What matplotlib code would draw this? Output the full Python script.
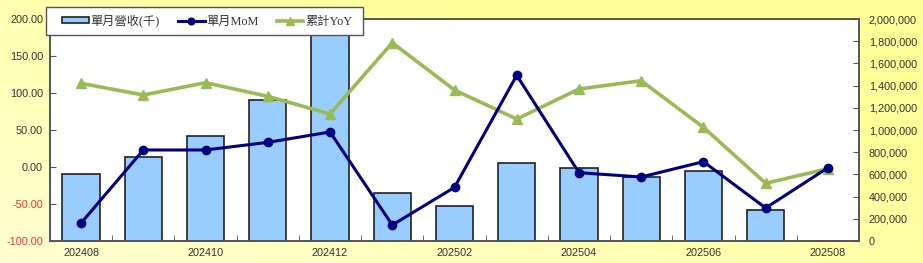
import numpy as np
import matplotlib
matplotlib.use("Agg")
import matplotlib.pyplot as plt
from matplotlib.ticker import FuncFormatter, FixedLocator
from matplotlib.patches import Rectangle

months = ["202408", "202409", "202410", "202411", "202412", "202501", "202502",
          "202503", "202504", "202505", "202506", "202507", "202508"]
revenue = [606000, 759000, 943000, 1273000, 2200000, 430000, 312000,
           705000, 661000, 580000, 631000, 282000, 0]
mom = [-75.7, 23.0, 23.0, 33.3, 47.3, -78.4, -27.5, 123.9, -7.7, -13.5, 7.2, -55.4, -1.0]
yoy = [113.0, 97.3, 113.9, 95.5, 71.6, 167.9, 104.0, 64.8, 105.4, 116.6, 53.6, -22.0, -2.3]

W, H = 923, 263
fig = plt.figure(figsize=(W / 100, H / 100), dpi=100)

# background gradient
bg = fig.add_axes([0, 0, 1, 1], zorder=-10)
gx = np.linspace(0, 1, 200)
gy = np.linspace(0, 1, 60)
X, Y = np.meshgrid(gx, gy)
t = np.clip(0.55 * X + 0.45 * (1 - Y) + 0.25, 0, 1)
c0 = np.array([1.0, 1.0, 0.90])
c1 = np.array([1.0, 1.0, 0.60])
img = c0[None, None, :] * (1 - t[..., None]) + c1[None, None, :] * t[..., None]
bg.imshow(img, aspect="auto", extent=[0, 1, 0, 1], origin="upper")
bg.axis("off")

ax2 = fig.add_axes([50 / W, 22 / H, 809 / W, 222 / H])
ax = ax2.twinx()
ax2.yaxis.tick_right()
ax.yaxis.tick_left()
ax.yaxis.set_label_position("left")
ax2.set_facecolor("white")

x = np.arange(len(months))
sans = ["Liberation Sans", "DejaVu Sans"]

bars = ax2.bar(x, revenue, width=0.6, color="#99CCFF", edgecolor="#222222", linewidth=1.2,
               label="單月營收(千)", zorder=2)
ax2.set_ylim(0, 2000000)
ax2.set_yticks(np.arange(0, 2000001, 200000))
ax2.yaxis.set_major_formatter(FuncFormatter(lambda v, p: f"{int(v):,}"))

l1, = ax.plot(x, mom, color="#000080", lw=2.2, marker="o", ms=6, label="單月MoM", zorder=4)
l2, = ax.plot(x, yoy, color="#99BB55", lw=2.6, marker="^", ms=7, label="累計YoY", zorder=3)
ax.set_ylim(-100, 200)
ax.set_yticks(np.arange(-100, 201, 50))
ax.yaxis.set_major_formatter(FuncFormatter(lambda v, p: f"{v:.2f}"))

ax.set_xlim(-0.5, len(months) - 0.5)
ax2.set_xlim(-0.5, len(months) - 0.5)
ax2.set_xticks(x[::2])
ax2.set_xticklabels(months[::2])
ax2.xaxis.set_minor_locator(FixedLocator(np.arange(-0.5, len(months), 1.0)))
ax2.tick_params(axis="x", which="major", length=0, pad=5)
ax2.tick_params(axis="x", which="minor", direction="in", length=4, color="#555555")

for a in (ax, ax2):
    for s in a.spines.values():
        s.set_color("#555555")
        s.set_linewidth(1.2)

ax.tick_params(axis="y", direction="in", length=4, color="#555555", labelsize=7.8, pad=5)
ax2.tick_params(axis="y", direction="in", length=4, color="#555555", labelsize=7.8, pad=7)
ax2.tick_params(axis="x", labelsize=7.8)
for lab in ax.get_yticklabels() + ax2.get_yticklabels() + ax2.get_xticklabels():
    lab.set_family(sans)
    lab.set_color("#333333")
for v, lab in zip(ax.get_yticks(), ax.get_yticklabels()):
    if v < 0:
        lab.set_color("#FF3030")
ax.set_zorder(ax2.get_zorder() + 1)
ax.patch.set_visible(False)

# legend frame
frame = Rectangle((46 / W, 1 - 35 / H), (363 - 46) / W, 28 / H, transform=fig.transFigure,
                  facecolor="white", edgecolor="#555555", linewidth=1.0, zorder=19)
fig.add_artist(frame)

leg = fig.legend([bars, l1, l2], ["單月營收(千)", "單月MoM", "累計YoY"], ncol=3,
                 loc="center left", bbox_to_anchor=(62 / W, 1 - 21 / H),
                 frameon=False, markerscale=0.8,
                 prop={"family": ["Liberation Serif", "Noto Sans CJK TC"], "size": 8.8},
                 handlelength=2.2, handletextpad=0.15, columnspacing=1.45,
                 borderpad=0, borderaxespad=0, handleheight=0.45)
leg.set_zorder(20)
for txt in leg.get_texts():
    txt.set_color("#333333")

fig.savefig("out.png", dpi=100)
